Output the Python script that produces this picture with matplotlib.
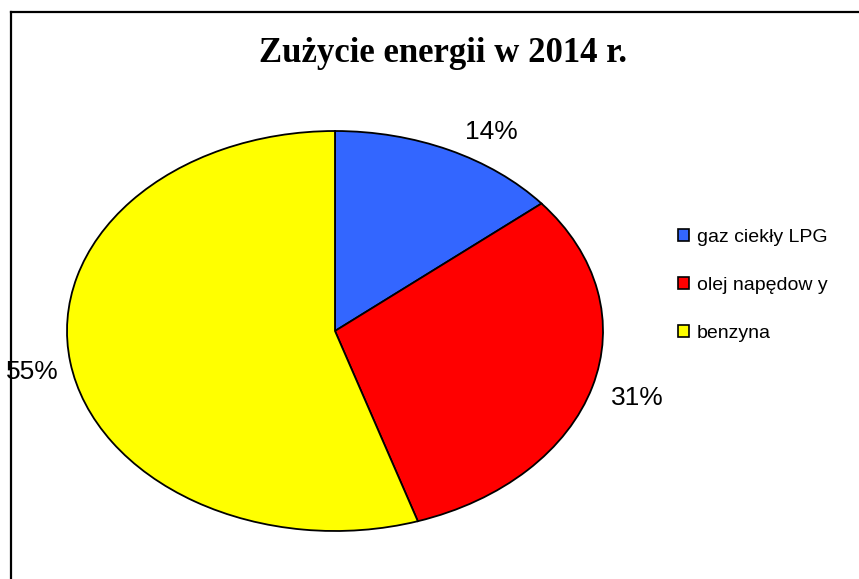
import matplotlib

matplotlib.use("Agg")

import matplotlib.pyplot as plt
from matplotlib.lines import Line2D
from matplotlib.patches import Patch
import numpy as np

categories = ["gaz ciekły LPG", "olej napędow y", "benzyna"]
shares = [14, 31, 55]
colors = ["#3366FF", "#FF0000", "#FFFF00"]
# radial distance of each percent label (x, y scale of the ellipse)
label_dist = [(1.37, 1.10), (1.175, 1.20), (1.145, 1.30)]

W, H = 859, 579
fig = plt.figure(figsize=(W / 100, H / 100), dpi=100)
fig.patch.set_facecolor("white")

# pie axes sized so the pie becomes an ellipse like the original
cx, cy, rx, ry = 335, 331, 268, 200
ax = fig.add_axes([(cx - rx) / W, (H - cy - ry) / H, 2 * rx / W, 2 * ry / H])
wedges, _ = ax.pie(
    shares,
    colors=colors,
    startangle=90,
    counterclock=False,
    wedgeprops={"edgecolor": "black", "linewidth": 1.3},
)
ax.set_aspect("auto")
ax.set_xlim(-1, 1)
ax.set_ylim(-1, 1)
ax.axis("off")

for wedge, share, (dx, dy) in zip(wedges, shares, label_dist):
    mid = np.deg2rad((wedge.theta1 + wedge.theta2) / 2)
    ax.text(
        dx * np.cos(mid),
        dy * np.sin(mid),
        f"{share}%",
        ha="center",
        va="center",
        fontsize=19,
        family="Liberation Sans",
        clip_on=False,
    )

fig.text(
    443 / W,
    1 - 53 / H,
    "Zużycie energii w 2014 r.",
    ha="center",
    va="center",
    fontsize=25,
    fontweight="bold",
    family="Liberation Serif",
)

handles = [Patch(facecolor=c, edgecolor="black", linewidth=1.2) for c in colors]
fig.legend(
    handles,
    categories,
    loc="upper left",
    bbox_to_anchor=(660 / W, 1 - 211 / H),
    frameon=False,
    prop={"family": "Liberation Sans", "size": 14},
    handlelength=0.6,
    handleheight=0.6,
    handletextpad=0.4,
    labelspacing=1.6,
)

# chart border (left and top edges visible)
fig.add_artist(Line2D([11 / W, 11 / W], [0, 1 - 12 / H], color="black", linewidth=1.6))
fig.add_artist(Line2D([11 / W, 1], [1 - 12 / H, 1 - 12 / H], color="black", linewidth=1.6))

fig.savefig("out.png", dpi=100)
